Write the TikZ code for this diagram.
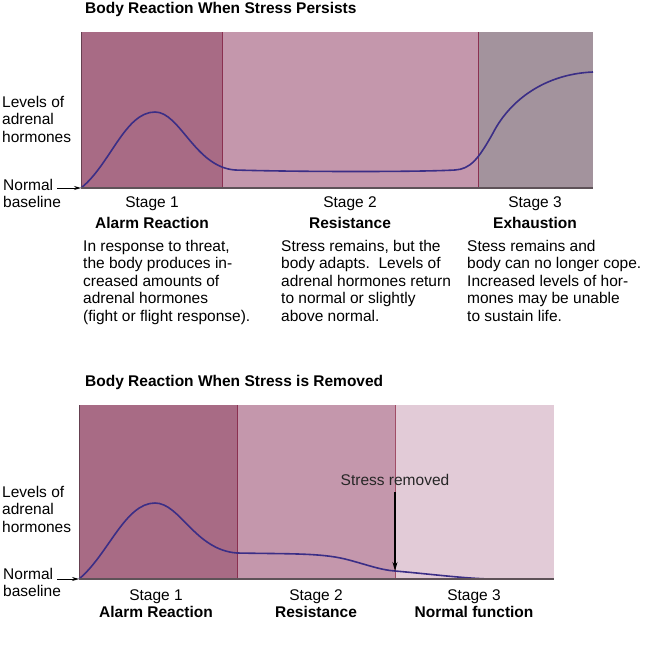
\documentclass[tikz,border=0pt]{standalone}
\usepackage{fontspec}
\setmainfont{Liberation Sans}
\usepackage{xcolor}
\usetikzlibrary{arrows.meta}
\usetikzlibrary{positioning}
\definecolor{stA}{HTML}{A86B85}
\definecolor{stB}{HTML}{C497AC}
\definecolor{stC}{HTML}{A3939D}
\definecolor{stN}{HTML}{E2CBD7}
\definecolor{divred}{HTML}{8A3050}
\definecolor{axisgray}{HTML}{5E5258}
\definecolor{curveblue}{HTML}{3B2E86}

\begin{document}
\begin{tikzpicture}[x=1pt,y=-1pt,
		txt/.style={font=\fontsize{15.5}{17.4}\selectfont, inner sep=0pt},
		hd/.style={txt, font=\fontsize{15.5}{17.4}\selectfont\bfseries},
		para/.style={txt, align=left, anchor=north west},
		curve/.style={curveblue, line width=1.6pt},
		divider/.style={divred, line width=0.9pt},
		baseaxis/.style={axisgray, line width=1.4pt}]
		\useasboundingbox (0,0) rectangle (650,656);
		\begin{scope}
			\node[hd, anchor=base west] (title1) at (85,13.3) {Body Reaction When Stress Persists};
			\fill[stA] (81,32) rectangle (222,188);
			\fill[stB] (222,32) rectangle (478,188);
			\fill[stC] (478,32) rectangle (593,188);
			\draw[divider] (222,32) -- (222,188);
			\draw[divider] (478,32) -- (478,188);
			\draw[stA!60!black, line width=0.6pt] (81,32) -- (81,188);
			\draw[curve] (81,188) .. controls (110,165) and (125,112) .. (155,112)
				.. controls (180,112) and (195,167) .. (235,170)
				.. controls (300,172) and (420,172) .. (455,170)
				.. controls (470,169) and (478,160) .. (493,133)
				.. controls (510,100) and (545,74) .. (593,72);
			\draw[baseaxis] (81,188) -- (593,188);
			\node[txt, align=left, anchor=north west] (lev1) at (2,96) {Levels of\\adrenal\\hormones};
			\node[txt, align=left, anchor=north west] (nb1) at (3,179) {Normal\\baseline};
			\coordinate (a1) at (57,188);
			\coordinate (o1) at (81,188);
			\draw[-{Stealth[length=7pt,width=4pt]}, line width=0.8pt] (a1) -- (o1);
			\node[txt, anchor=base] (s1) at (152,207) {Stage 1};
			\node[hd, anchor=base] (h1) at (152,228) {Alarm Reaction};
			\node[txt, anchor=base] (s2) at (350,207) {Stage 2};
			\node[hd, anchor=base] (h2) at (350,228) {Resistance};
			\node[txt, anchor=base] (s3) at (535,207) {Stage 3};
			\node[hd, anchor=base] (h3) at (535,228) {Exhaustion};
			\node[para] (d1) at (83,240) {In response to threat,\\the body produces in-\\creased amounts of\\adrenal hormones\\(fight or flight response).};
			\node[para] (d2) at (281,240) {Stress remains, but the\\body adapts.\ \ Levels of\\adrenal hormones return\\to normal or slightly\\above normal.};
			\node[para] (d3) at (467,240) {Stess remains and\\body can no longer cope.\\Increased levels of hor-\\mones may be unable\\to sustain life.};
		\end{scope}
		\begin{scope}
			\node[hd, anchor=base west] (title2) at (85,386) {Body Reaction When Stress is Removed};
			\fill[stA] (79,405) rectangle (237,579);
			\fill[stB] (237,405) rectangle (395,579);
			\fill[stN] (395,405) rectangle (554,579);
			\draw[divider] (237,405) -- (237,579);
			\draw[divred!80!pink, line width=0.9pt] (395,405) -- (395,579);
			\draw[stA!60!black, line width=0.6pt] (79,405) -- (79,579);
			\draw[curve] (79,579) .. controls (108,555) and (125,503) .. (155,503)
				.. controls (180,503) and (195,550) .. (237,553)
				.. controls (290,554) and (320,553) .. (345,559)
				.. controls (365,564) and (380,570) .. (395,571)
				.. controls (430,574) and (460,578) .. (489,579);
			\draw[baseaxis] (79,579) -- (554,579);
			\node[txt, align=left, anchor=north west] (lev2) at (2,486) {Levels of\\adrenal\\hormones};
			\node[txt, align=left, anchor=north west] (nb2) at (3,568) {Normal\\baseline};
			\coordinate (a2) at (57,579);
			\coordinate (o2) at (79,579);
			\draw[-{Stealth[length=7pt,width=4pt]}, line width=0.8pt] (a2) -- (o2);
			\node[txt, anchor=base, text=black!85] (sr) at (395,485) {Stress removed};
			\coordinate (rm) at (395,571);
			\draw[-{Stealth[length=9pt,width=5pt]}, line width=1.2pt, shorten <=7pt] (sr) -- (rm);
			\node[txt, anchor=base] (s4) at (156,600) {Stage 1};
			\node[hd, anchor=base] (h4) at (156,617) {Alarm Reaction};
			\node[txt, anchor=base] (s5) at (316,600) {Stage 2};
			\node[hd, anchor=base] (h5) at (316,617) {Resistance};
			\node[txt, anchor=base] (s6) at (474,600) {Stage 3};
			\node[hd, anchor=base] (h6) at (474,617) {Normal function};
		\end{scope}
	\end{tikzpicture}
\end{document}
